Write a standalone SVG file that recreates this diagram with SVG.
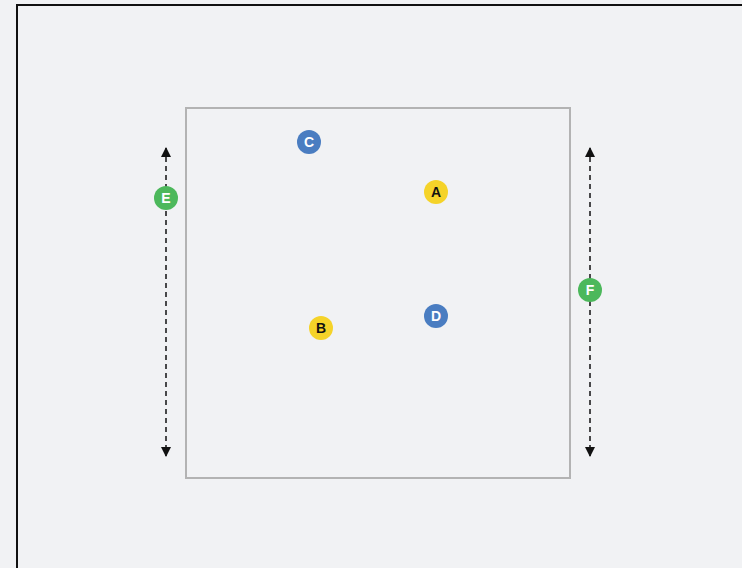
<svg xmlns="http://www.w3.org/2000/svg" width="742" height="568" viewBox="0 0 742 568">
<style>
.lbl{font-family:"Liberation Sans",Arial,sans-serif;font-size:14px;font-weight:bold;text-anchor:middle;dominant-baseline:central}
.dim{stroke:#111;stroke-width:1.5;stroke-dasharray:5 4;fill:none}
</style>
<defs>
<marker id="ah" viewBox="0 0 10 10" refX="9" refY="5" markerWidth="10" markerHeight="10" markerUnits="userSpaceOnUse" orient="auto-start-reverse">
<path d="M0,0 L10,5 L0,10 z" fill="#111"/>
</marker>
</defs>
<rect width="742" height="568" fill="#f1f2f4"/>
<rect x="17" y="5" width="760" height="600" fill="none" stroke="#111" stroke-width="2"/>
<rect id="room" x="186" y="108" width="384" height="370" fill="none" stroke="#b3b3b3" stroke-width="2"/>
<g id="connectors">
<line class="dim" x1="166" y1="148" x2="166" y2="456" marker-start="url(#ah)" marker-end="url(#ah)"/>
<line class="dim" x1="590" y1="148" x2="590" y2="456" marker-start="url(#ah)" marker-end="url(#ah)"/>
</g>
<g id="A"><circle cx="436" cy="192" r="12" fill="#f5d329"/><text class="lbl" x="436" y="192" fill="#111">A</text></g>
<g id="B"><circle cx="321" cy="328" r="12" fill="#f5d329"/><text class="lbl" x="321" y="328" fill="#111">B</text></g>
<g id="C"><circle cx="309" cy="142" r="12" fill="#4a7dc1"/><text class="lbl" x="309" y="142" fill="#fff">C</text></g>
<g id="D"><circle cx="436" cy="316" r="12" fill="#4a7dc1"/><text class="lbl" x="436" y="316" fill="#fff">D</text></g>
<g id="E"><circle cx="166" cy="198" r="12" fill="#4cb85b"/><text class="lbl" x="166" y="198" fill="#fff">E</text></g>
<g id="F"><circle cx="590" cy="290" r="12" fill="#4cb85b"/><text class="lbl" x="590" y="290" fill="#fff">F</text></g>
</svg>
